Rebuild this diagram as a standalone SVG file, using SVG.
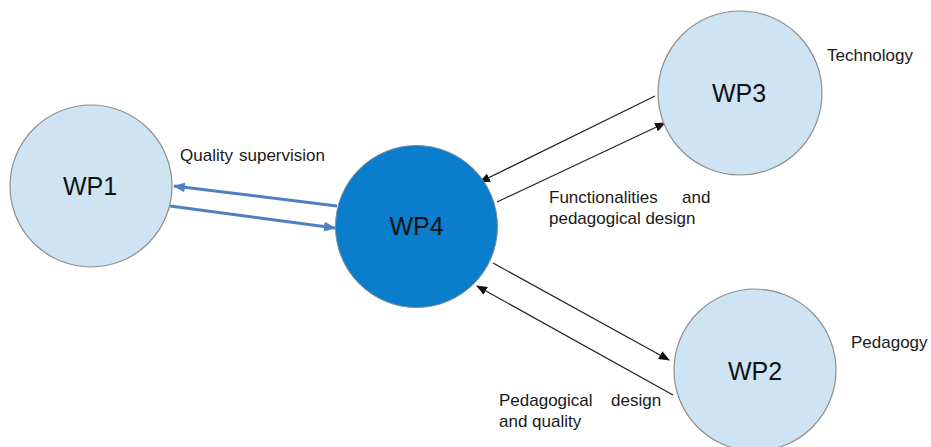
<svg xmlns="http://www.w3.org/2000/svg" width="931" height="447" viewBox="0 0 931 447">
<style>
.lt{fill:#cfe4f3;stroke:#8e8e8e;stroke-width:1.2}
.dk{fill:#0b7dcd;stroke:#7a8a99;stroke-width:1}
.wp{font-family:"Liberation Sans",Arial,sans-serif;font-size:25px;fill:#111;text-anchor:middle}
.lb{font-family:"Liberation Sans",Arial,sans-serif;font-size:17px;fill:#1a1a1a}
.bl{stroke:#4f7fc0;stroke-width:3;fill:none}
.bk{stroke:#222;stroke-width:1.2;fill:none}
</style>
<defs>
<marker id="ab" markerWidth="12" markerHeight="10" refX="11" refY="5" orient="auto" markerUnits="userSpaceOnUse"><path d="M0,0 L12,5 L0,10 Z" fill="#4f7fc0"/></marker>
<marker id="ak" markerWidth="11" markerHeight="9" refX="10" refY="4.5" orient="auto" markerUnits="userSpaceOnUse"><path d="M0,0 L11,4.5 L0,9 Z" fill="#111"/></marker>
</defs>
<rect width="931" height="447" fill="#fff"/>
<g id="connectors">
<line class="bl" x1="337" y1="206" x2="174" y2="186" marker-end="url(#ab)"/>
<line class="bl" x1="170" y1="206" x2="335" y2="228" marker-end="url(#ab)"/>
<line class="bk" x1="655" y1="96" x2="480" y2="182" marker-end="url(#ak)"/>
<line class="bk" x1="497" y1="202" x2="665" y2="123" marker-end="url(#ak)"/>
<line class="bk" x1="493" y1="263" x2="669" y2="360" marker-end="url(#ak)"/>
<line class="bk" x1="673" y1="395" x2="477" y2="286" marker-end="url(#ak)"/>
</g>
<g id="WP1"><circle class="lt" cx="91" cy="186" r="81"/><text class="wp" x="90" y="195">WP1</text></g>
<g id="WP4"><circle class="dk" cx="416.5" cy="226.5" r="81"/><text class="wp" x="416.5" y="235">WP4</text></g>
<g id="WP3"><circle class="lt" cx="740" cy="93" r="82"/><text class="wp" x="739" y="102">WP3</text></g>
<g id="WP2"><circle class="lt" cx="755" cy="370" r="81"/><text class="wp" x="755" y="380">WP2</text></g>
<g id="labels">
<text class="lb" x="180" y="161"><tspan x="180">Quality</tspan><tspan x="239">supervision</tspan></text>
<text class="lb" x="827" y="61">Technology</text>
<text class="lb" x="851" y="348">Pedagogy</text>
<text class="lb"><tspan x="549" y="203">Functionalities</tspan><tspan x="682" y="203">and</tspan><tspan x="549" y="224">pedagogical design</tspan></text>
<text class="lb"><tspan x="499" y="406">Pedagogical</tspan><tspan x="611" y="406">design</tspan><tspan x="499" y="427">and quality</tspan></text>
</g>
</svg>
